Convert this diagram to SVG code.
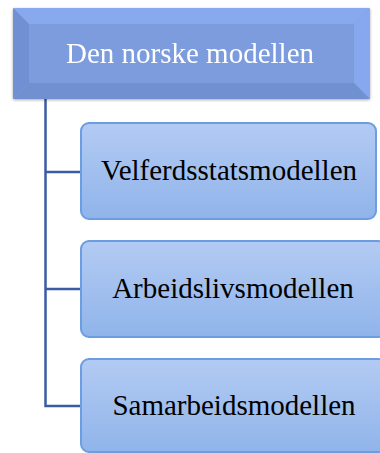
<svg xmlns="http://www.w3.org/2000/svg" width="380" height="453" viewBox="0 0 380 453">
<defs>
<linearGradient id="child" x1="0" y1="0" x2="0" y2="1">
<stop offset="0" stop-color="#b3cbf3"/>
<stop offset="1" stop-color="#90b4ea"/>
</linearGradient>
<filter id="sh" x="-5%" y="-10%" width="110%" height="125%">
<feGaussianBlur in="SourceAlpha" stdDeviation="1.5"/>
<feOffset dy="1"/>
<feComponentTransfer><feFuncA type="linear" slope="0.35"/></feComponentTransfer>
<feMerge><feMergeNode/><feMergeNode in="SourceGraphic"/></feMerge>
</filter>
</defs>
<style>
.child{fill:url(#child);stroke:#6b9de3;stroke-width:2}
.lbl{font-family:'Liberation Serif','Times New Roman','DejaVu Serif',serif;font-size:29px;text-anchor:middle;fill:#000}
.conn{fill:none;stroke:#3b5ca3;stroke-width:2.5}
</style>
<g id="connectors">
<path class="conn" d="M45.5 99 V406 H82"/>
<path class="conn" d="M45.5 172 H82"/>
<path class="conn" d="M45.5 289 H82"/>
</g>
<g id="root" filter="url(#sh)">
<rect x="13" y="8" width="357" height="91" rx="4" fill="#7b9cde"/>
<polygon points="13,8 370,8 354,24 29,24" fill="#89a9ef"/>
<polygon points="13,8 29,24 29,83 13,99" fill="#7090d3"/>
<polygon points="370,8 370,99 354,83 354,24" fill="#87a7ee"/>
<polygon points="13,99 29,83 354,83 370,99" fill="#7190d0"/>
<rect x="29" y="24" width="325" height="59" fill="#7b9cde"/>
<text x="190" y="63" class="lbl" font-family="Liberation Serif, serif" style="fill:#fff">Den norske modellen</text>
</g>
<g id="n1">
<rect class="child" x="81" y="123" width="295" height="96" rx="8"/>
<text x="229" y="180" class="lbl" font-family="Liberation Serif, serif">Velferdsstatsmodellen</text>
</g>
<g id="n2">
<rect class="child" x="81" y="241" width="305" height="96" rx="8"/>
<text x="233" y="298" class="lbl" font-family="Liberation Serif, serif">Arbeidslivsmodellen</text>
</g>
<g id="n3">
<rect class="child" x="81" y="359" width="305" height="93" rx="8"/>
<text x="234" y="415" class="lbl" font-family="Liberation Serif, serif">Samarbeidsmodellen</text>
</g>
</svg>
